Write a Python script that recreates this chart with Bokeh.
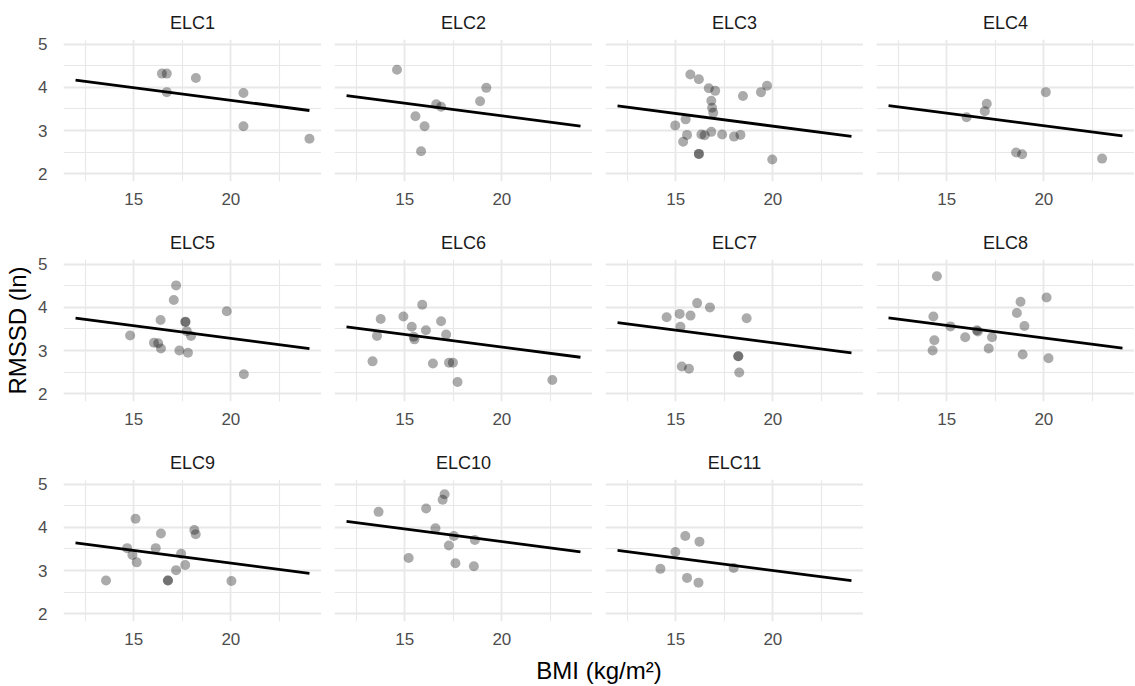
from bokeh.plotting import figure
from bokeh.layouts import gridplot, column
from bokeh.models import FixedTicker, Range1d
from bokeh.embed import file_html
from bokeh.resources import INLINE

# ---------------- data ----------------
panel_names = ["ELC1", "ELC2", "ELC3", "ELC4", "ELC5", "ELC6",
               "ELC7", "ELC8", "ELC9", "ELC10", "ELC11"]

bmi_elc1 = [16.45, 16.7, 16.7, 18.2, 20.65, 20.65, 24.05]
rmssd_elc1 = [4.32, 4.32, 3.89, 4.22, 3.87, 3.10, 2.81]

bmi_elc2 = [14.6, 19.2, 18.88, 16.62, 16.87, 15.55, 16.02, 15.84]
rmssd_elc2 = [4.41, 3.99, 3.68, 3.61, 3.55, 3.33, 3.10, 2.52]

bmi_elc3 = [15.75, 16.19, 16.70, 17.03, 18.46, 19.39, 19.70, 16.83, 16.87, 16.93,
            15.51, 14.97, 15.58, 15.38, 16.32, 16.49, 16.83, 17.39, 18.0, 18.33,
            16.19, 16.19, 19.97]
rmssd_elc3 = [4.30, 4.19, 3.98, 3.92, 3.80, 3.89, 4.04, 3.69, 3.53, 3.41,
              3.26, 3.12, 2.90, 2.74, 2.91, 2.89, 2.97, 2.91, 2.86, 2.90,
              2.46, 2.46, 2.33]

bmi_elc4 = [16.02, 16.96, 17.06, 20.10, 18.57, 18.88, 23.0]
rmssd_elc4 = [3.31, 3.45, 3.62, 3.89, 2.49, 2.45, 2.35]

bmi_elc5 = [14.81, 17.18, 17.06, 16.38, 19.79, 17.66, 17.66, 17.73, 17.95, 16.04,
            16.26, 16.40, 17.35, 17.79, 20.67]
rmssd_elc5 = [3.35, 4.51, 4.17, 3.71, 3.91, 3.67, 3.66, 3.45, 3.34, 3.18,
              3.17, 3.05, 3.00, 2.95, 2.45]

bmi_elc6 = [15.90, 14.93, 13.76, 16.87, 15.36, 16.09, 13.57, 15.46, 15.50, 17.13,
            13.34, 16.45, 17.28, 17.48, 17.72, 22.6]
rmssd_elc6 = [4.06, 3.79, 3.73, 3.68, 3.55, 3.47, 3.34, 3.32, 3.26, 3.37,
              2.75, 2.70, 2.72, 2.72, 2.27, 2.32]

bmi_elc7 = [16.10, 16.76, 14.53, 15.20, 15.76, 18.65, 15.24, 18.22, 18.22, 15.31,
            15.68, 18.27]
rmssd_elc7 = [4.10, 4.00, 3.77, 3.85, 3.81, 3.75, 3.55, 2.87, 2.87, 2.63,
              2.58, 2.49]

bmi_elc8 = [14.49, 20.14, 18.80, 18.61, 14.31, 19.0, 15.19, 16.55, 16.6, 15.95,
            17.33, 14.36, 17.16, 14.27, 18.91, 20.24]
rmssd_elc8 = [4.72, 4.23, 4.13, 3.87, 3.79, 3.57, 3.56, 3.47, 3.44, 3.31,
              3.31, 3.24, 3.05, 3.00, 2.91, 2.82]

bmi_elc9 = [15.09, 16.40, 18.12, 18.19, 14.66, 16.13, 14.93, 15.15, 17.44, 17.65,
            17.18, 13.57, 16.76, 16.76, 20.03]
rmssd_elc9 = [4.20, 3.86, 3.94, 3.84, 3.52, 3.52, 3.36, 3.19, 3.39, 3.13,
              3.01, 2.77, 2.77, 2.77, 2.76]

bmi_elc10 = [17.05, 16.95, 16.10, 13.65, 16.58, 17.53, 18.61, 17.27, 15.20, 17.61, 18.56]
rmssd_elc10 = [4.77, 4.64, 4.44, 4.36, 3.98, 3.80, 3.71, 3.58, 3.29, 3.17, 3.10]

bmi_elc11 = [15.49, 16.22, 14.98, 14.21, 17.98, 15.58, 16.17]
rmssd_elc11 = [3.80, 3.67, 3.43, 3.04, 3.06, 2.83, 2.72]

# fitted lines: common slope, panel-specific level at the left end
line_bmi = [12.0, 24.05]
line_start = [4.17, 3.81, 3.57, 3.58, 3.75, 3.55, 3.65, 3.76, 3.64, 4.14, 3.47]
line_slope = -0.0585

x_ticks = [15, 20]
x_minor = [12.5, 17.5, 22.5]
y_ticks = [2, 3, 4, 5]
y_minor = [2.5, 3.5, 4.5]

x_title = "BMI (kg/m\u00b2)"
y_title = "RMSSD (ln)"

all_bmi = [bmi_elc1, bmi_elc2, bmi_elc3, bmi_elc4, bmi_elc5, bmi_elc6,
           bmi_elc7, bmi_elc8, bmi_elc9, bmi_elc10, bmi_elc11]
all_rmssd = [rmssd_elc1, rmssd_elc2, rmssd_elc3, rmssd_elc4, rmssd_elc5, rmssd_elc6,
             rmssd_elc7, rmssd_elc8, rmssd_elc9, rmssd_elc10, rmssd_elc11]

# ---------------- style ----------------
FONT = "Liberation Sans"
FRAME_W, FRAME_H = 258, 142
GAP = 13
LEFT = 63
GRID_COLOR = "#e8e8e8"
NCOL = 4


def make_panel(i):
    r, c = divmod(i, NCOL)
    first_col = c == 0
    p = figure(
        frame_width=FRAME_W, frame_height=FRAME_H,
        min_border_left=LEFT if first_col else GAP, min_border_right=0,
        min_border_top=39, min_border_bottom=39 if r < 2 else 29,
        x_range=Range1d(11.38, 24.67), y_range=Range1d(1.82, 5.11),
        y_axis_location="left" if first_col else None,
        output_backend="svg", toolbar_location=None, title=panel_names[i],
    )
    p.outline_line_color = None
    p.background_fill_color = "white"
    p.border_fill_color = "white"

    p.title.text_font = FONT
    p.title.text_font_size = "18px"
    p.title.text_font_style = "normal"
    p.title.text_color = "#1a1a1a"
    p.title.align = "center"
    p.title.standoff = 14

    xt = FixedTicker(ticks=x_ticks, minor_ticks=x_minor)
    yt = FixedTicker(ticks=y_ticks, minor_ticks=y_minor)
    p.xaxis.ticker = xt
    p.xgrid.ticker = xt
    p.ygrid.ticker = yt
    for g in (p.xgrid, p.ygrid):
        g.grid_line_color = GRID_COLOR
        g.grid_line_width = 1.8
        g.minor_grid_line_color = GRID_COLOR
        g.minor_grid_line_width = 1.1

    axes = [p.xaxis]
    if first_col:
        p.yaxis.ticker = yt
        axes.append(p.yaxis)
    for ax in axes:
        ax.axis_line_color = None
        ax.major_tick_line_color = None
        ax.minor_tick_line_color = None
        ax.major_label_text_font = FONT
        ax.major_label_text_font_size = "17px"
        ax.major_label_text_color = "#4d4d4d"
    p.xaxis.major_label_standoff = 5
    if first_col:
        p.yaxis.major_label_standoff = 10
        if i == 4:
            p.yaxis.axis_label = y_title
            p.yaxis.axis_label_text_font = FONT
            p.yaxis.axis_label_text_font_size = "24px"
            p.yaxis.axis_label_text_font_style = "normal"
            p.yaxis.axis_label_text_color = "black"
            p.yaxis.axis_label_standoff = 4

    p.scatter(all_bmi[i], all_rmssd[i], size=10, fill_color="black",
              fill_alpha=0.33, line_color=None)
    ys = [line_start[i], line_start[i] + line_slope * (line_bmi[1] - line_bmi[0])]
    p.line(line_bmi, ys, line_color="black", line_width=2.8)
    return p


panels = [make_panel(i) for i in range(len(panel_names))]
rows = [panels[0:4], panels[4:8], panels[8:11] + [None]]
grid = gridplot(rows, toolbar_location=None)

# bottom strip carrying the shared x-axis title
pb = figure(frame_width=NCOL * FRAME_W + (NCOL - 1) * GAP, frame_height=1,
            min_border_left=LEFT, min_border_right=0, min_border_top=0, min_border_bottom=34,
            x_range=Range1d(0, 1), y_range=Range1d(0, 1), y_axis_location=None,
            output_backend="svg", toolbar_location=None)
pb.outline_line_color = None
pb.grid.visible = False
pb.xaxis.ticker = FixedTicker(ticks=[])
pb.xaxis.axis_line_color = None
pb.xaxis.major_tick_line_color = None
pb.xaxis.minor_tick_line_color = None
pb.xaxis.major_label_standoff = 0
pb.xaxis.axis_label = x_title
pb.xaxis.axis_label_text_font = FONT
pb.xaxis.axis_label_text_font_size = "24px"
pb.xaxis.axis_label_text_font_style = "normal"
pb.xaxis.axis_label_text_color = "black"
pb.xaxis.axis_label_standoff = 5

layout = column(grid, pb)

open("out.html", "w").write(file_html(layout, INLINE))
